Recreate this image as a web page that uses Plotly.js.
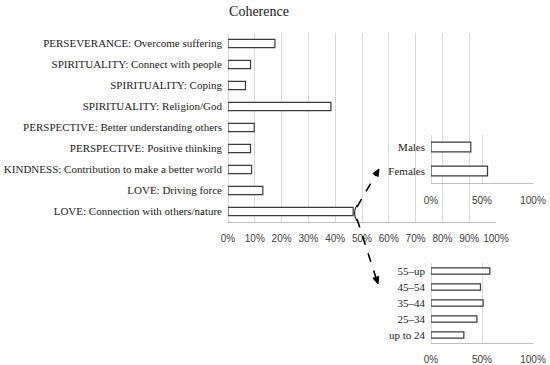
<!DOCTYPE html>
<html><head><meta charset="utf-8">
<script src="https://cdn.plot.ly/plotly-3.0.1.min.js"></script>
<style>html,body{margin:0;padding:0;background:#fff}#chart{width:550px;height:365px}</style>
</head><body><div id="chart"></div>
<script>
// ---- data ----
const mainCategories = [
  "PERSEVERANCE: Overcome suffering",
  "SPIRITUALITY: Connect with people",
  "SPIRITUALITY: Coping",
  "SPIRITUALITY: Religion/God",
  "PERSPECTIVE: Better understanding others",
  "PERSPECTIVE: Positive thinking",
  "KINDNESS: Contribution to make a better world",
  "LOVE: Driving force",
  "LOVE: Connection with others/nature"
];
const mainValues = [0.175, 0.084, 0.065, 0.384, 0.098, 0.084, 0.088, 0.13, 0.467];
const genderCategories = ["Males", "Females"];
const genderValues = [0.39, 0.554];
const ageCategories = ["55\u2013up", "45\u201354", "35\u201344", "25\u201334", "up to 24"];
const ageValues = [0.577, 0.485, 0.511, 0.45, 0.322];
const mainTickVals = [0,0.1,0.2,0.3,0.4,0.5,0.6,0.7,0.8,0.9,1];
const mainTickText = ["0%","10%","20%","30%","40%","50%","60%","70%","80%","90%","100%"];
const insetTickVals = [0,0.5,1];
const insetTickText = ["0%","50%","100%"];

// ---- layout helpers ----
const W = 550, H = 365;
const px = x => x / W;
const py = y => 1 - y / H;
const serif = "Liberation Serif";
const sans = "Liberation Sans";
const txt = '#1a1a1a';
const bar = (x, y, xa, ya) => ({
  type: 'bar', orientation: 'h', x: x, y: y, xaxis: xa, yaxis: ya,
  marker: {color: '#ffffff', line: {color: '#3a3a3a', width: 1.2}},
  hoverinfo: 'skip', showlegend: false
});

const data = [
  bar(mainValues, mainCategories, 'x', 'y'),
  bar(genderValues, genderCategories, 'x2', 'y2'),
  bar(ageValues, ageCategories, 'x3', 'y3')
];

const xBase = {
  range: [0, 1], fixedrange: true, showgrid: true, gridcolor: '#d9d9d9', gridwidth: 1,
  zeroline: true, zerolinecolor: '#d9d9d9', zerolinewidth: 1,
  showline: true, linecolor: '#bfbfbf', linewidth: 1, ticks: '',
  tickfont: {family: sans, size: 10, color: '#404040'}
};
const yBase = {
  type: 'category', autorange: 'reversed', showgrid: false, zeroline: false,
  showline: false, ticks: '', ticklabelstandoff: 5,
  tickfont: {family: serif, size: 11, color: txt}
};

function arrow(x0, y0, x1, y1) {
  const dx = x1 - x0, dy = y1 - y0, L = Math.hypot(dx, dy);
  const ux = dx / L, uy = dy / L, nx = -uy, ny = ux;
  const hl = 7, hw = 3;
  const bx = x1 - hl * ux, by = y1 - hl * uy;
  return [
    {type: 'line', xref: 'paper', yref: 'paper', x0: px(x0), y0: py(y0), x1: px(bx), y1: py(by),
     line: {color: '#000', width: 1.6, dash: 'dash'}},
    {type: 'path', xref: 'paper', yref: 'paper',
     path: `M ${px(x1)} ${py(y1)} L ${px(bx + hw*nx)} ${py(by + hw*ny)} L ${px(bx - hw*nx)} ${py(by - hw*ny)} Z`,
     fillcolor: '#000', line: {color: '#000', width: 1}}
  ];
}

const shapes = [].concat(
  arrow(357, 207, 379, 169),
  arrow(357, 219, 378, 284),
  [{type: 'path', xref: 'paper', yref: 'paper',
    path: `M ${px(357)} ${py(205)} Q ${px(352)} ${py(213)} ${px(357)} ${py(221)}`,
    line: {color: '#000', width: 1}}]
);

const layout = {
  width: W, height: H, margin: {l: 0, r: 0, t: 0, b: 0},
  paper_bgcolor: '#fff', plot_bgcolor: 'rgba(0,0,0,0)',
  bargap: 0.6,
  title: {text: 'Coherence', x: px(259), xref: 'paper', xanchor: 'center',
          y: py(11), yref: 'paper', yanchor: 'middle',
          font: {family: serif, size: 14, color: txt}},
  xaxis: Object.assign({}, xBase, {domain: [px(228), px(496)], anchor: 'y',
          tickvals: mainTickVals, ticktext: mainTickText, ticklabelstandoff: 7}),
  yaxis: Object.assign({}, yBase, {domain: [py(222), py(33)], anchor: 'x'}),
  xaxis2: Object.assign({}, xBase, {domain: [px(431), px(533)], anchor: 'y2',
          tickvals: insetTickVals, ticktext: insetTickText, ticklabelstandoff: 8}),
  yaxis2: Object.assign({}, yBase, {domain: [py(183), py(135)], anchor: 'x2'}),
  xaxis3: Object.assign({}, xBase, {domain: [px(431), px(533)], anchor: 'y3',
          tickvals: insetTickVals, ticktext: insetTickText, ticklabelstandoff: 7}),
  yaxis3: Object.assign({}, yBase, {domain: [py(343), py(263)], anchor: 'x3'}),
  shapes: shapes
};

Plotly.newPlot('chart', data, layout, {staticPlot: true, displayModeBar: false});
</script>
</body></html>
